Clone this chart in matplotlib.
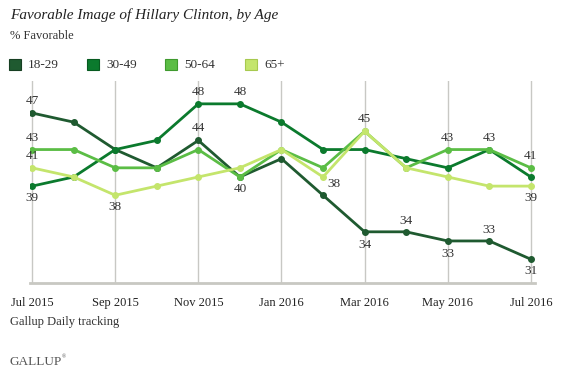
import numpy as np
from matplotlib import pyplot as plt

months = ['Jul 2015', 'Aug 2015', 'Sep 2015', 'Oct 2015', 'Nov 2015', 'Dec 2015',
          'Jan 2016', 'Feb 2016', 'Mar 2016', 'Apr 2016', 'May 2016', 'Jun 2016', 'Jul 2016']
tick_labels = ['Jul 2015', 'Sep 2015', 'Nov 2015', 'Jan 2016', 'Mar 2016', 'May 2016', 'Jul 2016']

age_18_29 = [47, 46, 43, 41, 44, 40, 42, 38, 34, 34, 33, 33, 31]
age_30_49 = [39, 40, 43, 44, 48, 48, 46, 43, 43, 42, 41, 43, 40]
age_50_64 = [43, 43, 41, 41, 43, 40, 43, 41, 45, 41, 43, 43, 41]
age_65up = [41, 40, 38, 39, 40, 41, 43, 40, 45, 41, 40, 39, 39]

series_names = ['18-29', '30-49', '50-64', '65+']
colors = ['#1f5a30', '#0b7a2d', '#5bbd45', '#c4e56c']
edge_colors = ['#163f22', '#075a20', '#3f9a2e', '#a7c94f']

# (series index, month index, text, offset in px (dx, dy))
labels = [
    (0, 0, '47', (0, 12)), (2, 0, '43', (0, 12)), (3, 0, '41', (0, 12)), (1, 0, '39', (0, -12)),
    (3, 2, '38', (0, -12)), (0, 4, '44', (0, 12)), (1, 4, '48', (0, 12)), (1, 5, '48', (0, 12)),
    (2, 5, '40', (0, -12)), (3, 7, '38', (11, -7)), (3, 8, '45', (0, 12)), (0, 8, '34', (0, -13)),
    (0, 9, '34', (0, 11)), (2, 10, '43', (0, 12)), (0, 10, '33', (0, -13)), (2, 11, '43', (0, 12)),
    (0, 11, '33', (0, 11)), (2, 12, '41', (0, 12)), (3, 12, '39', (0, -12)), (0, 12, '31', (0, -12)),
]

W, H = 564, 379
fig = plt.figure(figsize=(W / 100, H / 100), dpi=100)
plt.rcParams['font.family'] = ['Liberation Serif', 'DejaVu Serif']

def px(x, y):
    return x / W, 1 - y / H

ax = fig.add_axes([30 / W, 1 - 283 / H, 505 / W, 202 / H])
x = np.arange(len(months))
data = [age_18_29, age_30_49, age_50_64, age_65up]
for vals, c in zip(data, colors):
    ax.plot(x, vals, color=c, lw=2.0, marker='o', ms=4, mec=c, mfc=c, solid_capstyle='round')

for si, mi, txt, (dx, dy) in labels:
    ax.annotate(txt, (mi, data[si][mi]), xytext=(dx * 0.72, dy * 0.72), textcoords='offset points',
                ha='center', va='center', fontsize=9.5, color='#333333')

ax.set_xlim(-0.05, 12.1)
ax.set_ylim(28.4, 50.5)
for m in range(0, 13, 2):
    ax.axvline(m, color='#c8c8c4', lw=1, zorder=0)
for s in ['top', 'right', 'left']:
    ax.spines[s].set_visible(False)
ax.spines['bottom'].set_color('#c8c8c2')
ax.spines['bottom'].set_linewidth(2)
ax.set_yticks([])
ax.set_xticks(range(0, 13, 2))
ax.set_xticklabels(tick_labels, fontsize=9, color='#222222')
ax.tick_params(axis='x', length=0, pad=10)

fig.text(*px(10, 15), 'Favorable Image of Hillary Clinton, by Age', fontsize=11,
         style='italic', va='center', ha='left', color='#222222')
fig.text(*px(10, 36), '% Favorable', fontsize=9, va='center', ha='left', color='#333333')

leg_x = [9, 87, 165, 245]
for lx, name, c, ec in zip(leg_x, series_names, colors, edge_colors):
    fig.patches.append(plt.Rectangle(px(lx, 70), 12 / W, 11 / H, transform=fig.transFigure,
                                     facecolor=c, edgecolor=ec, lw=0.8))
    fig.text(*px(lx + 19, 64.5), name, fontsize=9.5, va='center', ha='left', color='#333333')

fig.text(*px(10, 322), 'Gallup Daily tracking', fontsize=9, va='center', ha='left', color='#333333')
fig.text(*px(10, 362), 'GALLUP', fontsize=9.5, va='center', ha='left', color='#555555')
fig.text(*px(62, 357), '\u00ae', fontsize=4, va='center', ha='left', color='#555555')

fig.savefig('out.png', dpi=100)
